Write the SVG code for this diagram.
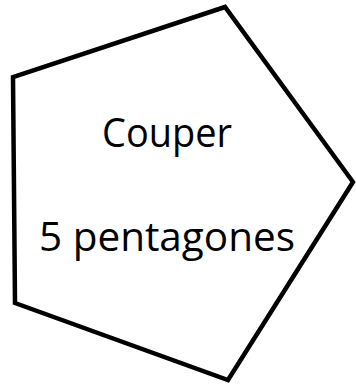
<svg xmlns="http://www.w3.org/2000/svg" width="356" height="388" viewBox="0 0 356 388">
<style>
.shape{fill:#fff;stroke:#000;stroke-width:4.5;stroke-linejoin:miter}
.lbl{font-family:"Comic Sans MS","Open Sans","DejaVu Sans",sans-serif;font-size:40px;fill:#000;text-anchor:middle}
</style>
<rect width="356" height="388" fill="#fff"/>
<g id="pentagon">
<polygon class="shape" points="225,7 13,77 15,303 228,380 353,182"/>
<text class="lbl" x="167" y="147" textLength="130" lengthAdjust="spacingAndGlyphs">Couper</text>
<text class="lbl" x="167" y="251" textLength="256" lengthAdjust="spacingAndGlyphs">5 pentagones</text>
</g>
<g id="connectors"/>
</svg>
